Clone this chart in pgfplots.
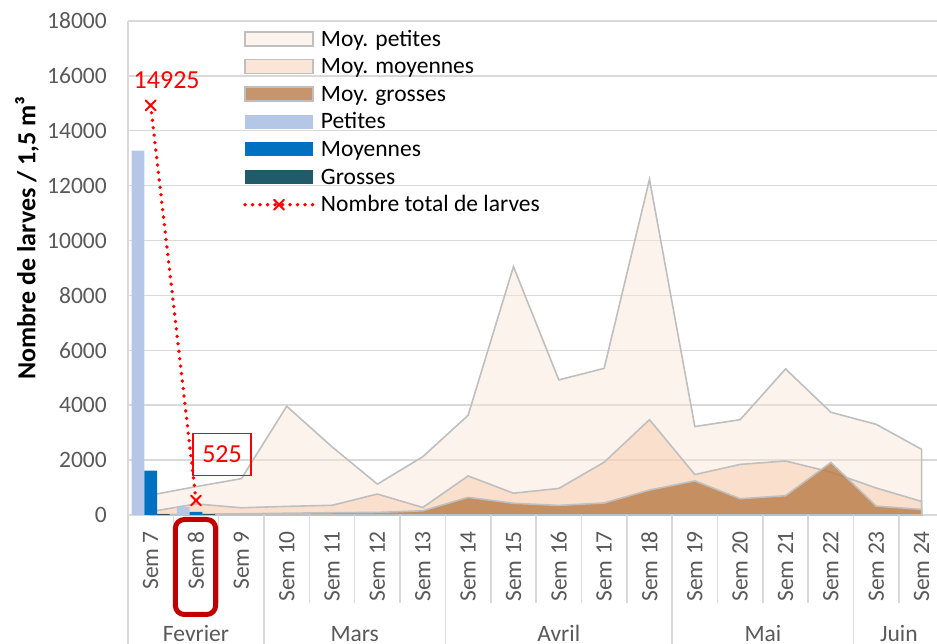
\documentclass[border=0pt]{standalone}
\usepackage{pgfplots}
\pgfplotsset{compat=1.18}
\usepackage{fontspec}
\setmainfont{Carlito}
\usetikzlibrary{calc}
\definecolor{gridc}{HTML}{D9D9D9}
\definecolor{tickc}{HTML}{595959}
\definecolor{apet}{HTML}{FBE5D6}
\definecolor{amoy}{HTML}{F8CBAD}
\definecolor{agro}{HTML}{B97B48}
\definecolor{aline}{HTML}{BFBFBF}
\definecolor{bpet}{HTML}{B4C7E7}
\definecolor{bmoy}{HTML}{0070C0}
\definecolor{bgro}{HTML}{215A69}
\definecolor{dred}{HTML}{C00000}
\newcommand\fs{\fontsize{23.5}{28}\selectfont}
\newcommand\fsl{\fontsize{26}{30}\selectfont}
\pgfplotsset{
  patchleg/.style={legend image code/.code={\draw[##1] (0pt,-5.5pt) rectangle (68pt,8.5pt);}},
  barleg/.style={legend image code/.code={\fill[##1] (0pt,-5.5pt) rectangle (68pt,8.5pt);}},
  lineleg/.style={legend image code/.code={\draw[mark repeat=2,mark phase=2,##1] plot coordinates {(0pt,1.5pt) (34pt,1.5pt) (68pt,1.5pt)};}},
}
\begin{document}
\begin{tikzpicture}
\useasboundingbox (0,0) rectangle (937pt,644pt);
\begin{axis}[
  at={(128pt,129.1pt)}, anchor=south west,
  scale only axis, width=809pt, height=493.9pt,
  xmin=-0.5, xmax=17.34, ymin=0, ymax=18000,
  clip=false,
  axis x line*=bottom, axis y line*=left,
  axis line style={-, draw=gridc, line width=1.5pt},
  ymajorgrids, grid style={gridc, line width=1.5pt},
  major tick length=0pt,
  ytick={0,2000,...,18000},
  scaled y ticks=false,
  /pgf/number format/.cd, 1000 sep={}, assume math mode=true, /pgfplots/.cd,
  yticklabel style={anchor=east, inner sep=0pt, xshift=-21pt, text=tickc, font=\fs},
  xtick={0,...,17},
  xticklabels={Sem 7,Sem 8,Sem 9,Sem 10,Sem 11,Sem 12,Sem 13,Sem 14,Sem 15,Sem 16,Sem 17,Sem 18,Sem 19,Sem 20,Sem 21,Sem 22,Sem 23,Sem 24},
  xticklabel style={rotate=90, anchor=east, inner sep=0pt, text=tickc, font=\fs},
  xticklabel shift=16pt,
  legend style={at={(0.1421,0.982)}, anchor=north west, draw=none, fill=none, inner sep=0pt,
    font=\fs, row sep=6.6pt, column sep=6pt,
    nodes={inner sep=0pt, text height=16pt, text depth=5pt}},
  legend cell align=left,
]
% Areas (not stacked)
\addplot[fill=apet, fill opacity=0.45, draw=aline, line width=1.6pt, patchleg] coordinates {
(0,720) (1,1030) (2,1320) (3,3960) (4,2480) (5,1120) (6,2120) (7,3630) (8,9050) (9,4920)
(10,5340) (11,12230) (12,3220) (13,3470) (14,5320) (15,3740) (16,3300) (17,2390)} \closedcycle;
\addlegendentry{Moy. petites}
\addplot[fill=amoy, fill opacity=0.5, draw=aline, line width=1.6pt, patchleg] coordinates {
(0,120) (1,400) (2,260) (3,310) (4,350) (5,760) (6,270) (7,1420) (8,790) (9,965)
(10,1920) (11,3470) (12,1470) (13,1840) (14,1965) (15,1560) (16,980) (17,490)} \closedcycle;
\addlegendentry{Moy. moyennes}
\addplot[fill=agro, fill opacity=0.8, draw=aline, line width=1.6pt, patchleg] coordinates {
(0,15) (1,25) (2,40) (3,60) (4,80) (5,90) (6,150) (7,640) (8,425) (9,345)
(10,435) (11,905) (12,1240) (13,590) (14,700) (15,1910) (16,320) (17,200)} \closedcycle;
\addlegendentry{Moy. grosses}
% Bars
\addplot[ybar, bar width=0.28, bar shift=-0.28, fill=bpet, draw=none, barleg] coordinates {(0,13280) (1,280)};
\addlegendentry{Petites}
\addplot[ybar, bar width=0.28, bar shift=0, fill=bmoy, draw=none, barleg] coordinates {(0,1610) (1,110)};
\addlegendentry{Moyennes}
\addplot[ybar, bar width=0.28, bar shift=0.28, fill=bgro, draw=none, barleg] coordinates {(0,30) (1,30)};
\addlegendentry{Grosses}
% Total
\addplot[red, line width=3.8pt, dash pattern=on 0pt off 7.5pt, line cap=round,
  mark=x, mark size=7pt, mark options={solid, line width=2pt}, lineleg] coordinates {(0,14925) (1,525)};
\addlegendentry{Nombre total de larves}
% data labels
\node[text=red, font=\fsl, inner sep=0pt] at ([xshift=16pt,yshift=25pt]axis cs:0,14925) {14925};
\node[text=red, draw=red, line width=1.3pt, minimum width=58pt, minimum height=42pt, inner sep=0pt, font=\fsl]
  at ([xshift=26pt,yshift=46pt]axis cs:1,525) {525};
% category separators
\pgfplotsinvokeforeach{0.5,1.5,3.5,4.5,5.5,7.5,8.5,9.5,10.5,12.5,13.5,14.5,16.5}{
  \draw[gridc, line width=1.5pt] (axis cs:#1,0) -- ++(0pt,-88pt);
}
\pgfplotsinvokeforeach{-0.5,2.5,6.5,11.5,15.5}{
  \draw[gridc, line width=1.5pt] (axis cs:#1,0) -- ++(0pt,-131pt);
}
% month labels
\node[anchor=base, text=tickc, font=\fs, inner sep=0pt] at ([yshift=-126.8pt]axis cs:1,0) {Fevrier};
\node[anchor=base, text=tickc, font=\fs, inner sep=0pt] at ([yshift=-126.8pt]axis cs:4.5,0) {Mars};
\node[anchor=base, text=tickc, font=\fs, inner sep=0pt] at ([yshift=-126.8pt]axis cs:9,0) {Avril};
\node[anchor=base, text=tickc, font=\fs, inner sep=0pt] at ([yshift=-126.8pt]axis cs:13.5,0) {Mai};
\node[anchor=base, text=tickc, font=\fs, inner sep=0pt] at ([yshift=-126.8pt]axis cs:16.5,0) {Juin};
% highlight box around Sem 8
\draw[dred, line width=5pt, rounded corners=9pt]
  ([xshift=2pt,yshift=-4.6pt]axis cs:0.5,0) rectangle ([xshift=-3pt,yshift=-99.6pt]axis cs:1.5,0);
\end{axis}
\node[rotate=90, font=\fsl\bfseries, inner sep=0pt] at (27pt,406pt) {Nombre de larves / 1,5 m³};
\end{tikzpicture}
\end{document}
